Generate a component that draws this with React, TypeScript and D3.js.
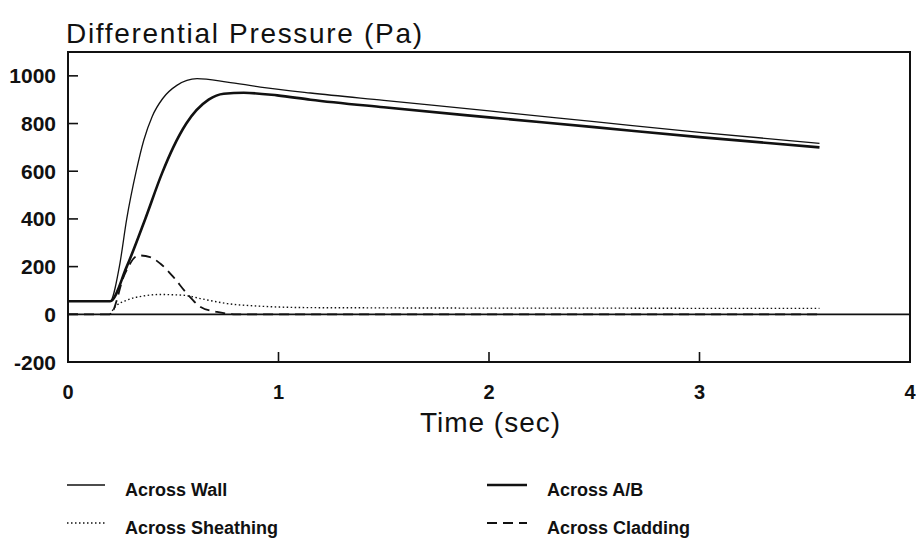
import React from "react";
import * as d3 from "d3";

// time (sec) and differential pressure (Pa)
const wallTime = [0, 0.2, 0.244, 0.279, 0.324, 0.36, 0.4, 0.45, 0.517, 0.613, 0.756, 0.914, 1.152, 1.5, 2, 2.5, 3, 3.57];
const wallValues = [55, 55, 200, 400, 600, 730, 830, 905, 960, 988, 974, 953, 928, 897, 853, 808, 763, 717];

const abTime = [0, 0.2, 0.279, 0.367, 0.446, 0.5, 0.562, 0.668, 0.74, 0.835, 0.994, 1.152, 1.5, 2, 2.5, 3, 3.57];
const abValues = [55, 55, 200, 400, 590, 700, 800, 900, 925, 929, 918, 900, 868, 826, 785, 743, 700];

const sheathTime = [0.2, 0.224, 0.279, 0.359, 0.438, 0.549, 0.629, 0.756, 0.914, 1.15, 1.5, 2, 2.5, 3, 3.57];
const sheathValues = [0, 31, 59, 77, 83, 80, 66, 45, 34, 28, 27, 26, 26, 25, 25];

const claddingTime = [0, 0.2, 0.27, 0.335, 0.39, 0.438, 0.5, 0.565, 0.63, 0.708, 0.8, 1, 3.57];
const claddingValues = [0, 0, 170, 247, 240, 213, 157, 87, 31, 10, 0, 0, 0];

const xTicks = [0, 1, 2, 3, 4];
const yTicks = [-200, 0, 200, 400, 600, 800, 1000];

const legendItems = [
  { label: "Across Wall", width: 1.3, dash: "" },
  { label: "Across A/B", width: 2.6, dash: "" },
  { label: "Across Sheathing", width: 1.4, dash: "1.5 2.5" },
  { label: "Across Cladding", width: 1.8, dash: "10 6" },
];

const W = 916;
const H = 545;
const m = { left: 68, top: 52, right: 6, bottom: 183 };

const App = () => {
  const x = d3.scaleLinear().domain([0, 4]).range([m.left, W - m.right]);
  const y = d3.scaleLinear().domain([-200, 1100]).range([H - m.bottom, m.top]);

  const line = d3.line<[number, number]>()
    .x((d) => x(d[0]))
    .y((d) => y(d[1]))
    .curve(d3.curveMonotoneX);

  const zip = (t: number[], v: number[]) => t.map((d, i) => [d, v[i]] as [number, number]);

  const series = [
    { pts: zip(wallTime, wallValues), ...legendItems[0] },
    { pts: zip(abTime, abValues), ...legendItems[1] },
    { pts: zip(sheathTime, sheathValues), ...legendItems[2] },
    { pts: zip(claddingTime, claddingValues), ...legendItems[3] },
  ];

  const font = "'Liberation Sans', Arial, Helvetica, sans-serif";
  // legend rows / columns
  const legendPos = [
    [67, 485],
    [487, 485],
    [67, 523],
    [487, 523],
  ];

  return (
    <svg width={W} height={H} style={{ position: "absolute", left: 0, top: 0, background: "#fff" }} fontFamily={font}>
      <text x={66} y={43} fontSize={28} textLength={356} lengthAdjust="spacing" fill="#111">Differential Pressure (Pa)</text>

      {/* frame */}
      <rect x={x(0)} y={y(1100)} width={x(4) - x(0)} height={y(-200) - y(1100)} fill="none" stroke="#111" strokeWidth={2} />

      {/* zero line */}
      <line x1={x(0)} x2={x(4)} y1={y(0)} y2={y(0)} stroke="#111" strokeWidth={1.8} />

      {yTicks.map((t) => (
        <g key={t}>
          <line x1={x(0)} x2={x(0) + 10} y1={y(t)} y2={y(t)} stroke="#111" strokeWidth={1.6} />
          <text x={56} y={y(t) + 7.5} textAnchor="end" fontSize={21} fontWeight="bold" fill="#111">{t}</text>
        </g>
      ))}

      {xTicks.map((t) => (
        <g key={t}>
          <line x1={x(t)} x2={x(t)} y1={y(-200)} y2={y(-200) - 10} stroke="#111" strokeWidth={1.6} />
          <text x={x(t)} y={399} textAnchor="middle" fontSize={20} fontWeight="bold" fill="#111">{t}</text>
        </g>
      ))}

      <text x={420} y={432} fontSize={28} textLength={140} lengthAdjust="spacing" fill="#111">Time (sec)</text>

      {series.map((s) => (
        <path key={s.label} d={line(s.pts) || ""} fill="none" stroke="#111" strokeWidth={s.width}
          strokeDasharray={s.dash || undefined} strokeLinejoin="round" />
      ))}

      {legendItems.map((s, i) => (
        <g key={s.label} transform={`translate(${legendPos[i][0]},${legendPos[i][1]})`}>
          <line x1={0} x2={i % 2 === 0 ? 38 : 40} y1={0} y2={0}
            stroke="#111" strokeWidth={s.width} strokeDasharray={s.dash || undefined} />
          <text x={i % 2 === 0 ? 58 : 60} y={11} fontSize={18} fontWeight="bold" fill="#111">{s.label}</text>
        </g>
      ))}
    </svg>
  );
};

export default App;
